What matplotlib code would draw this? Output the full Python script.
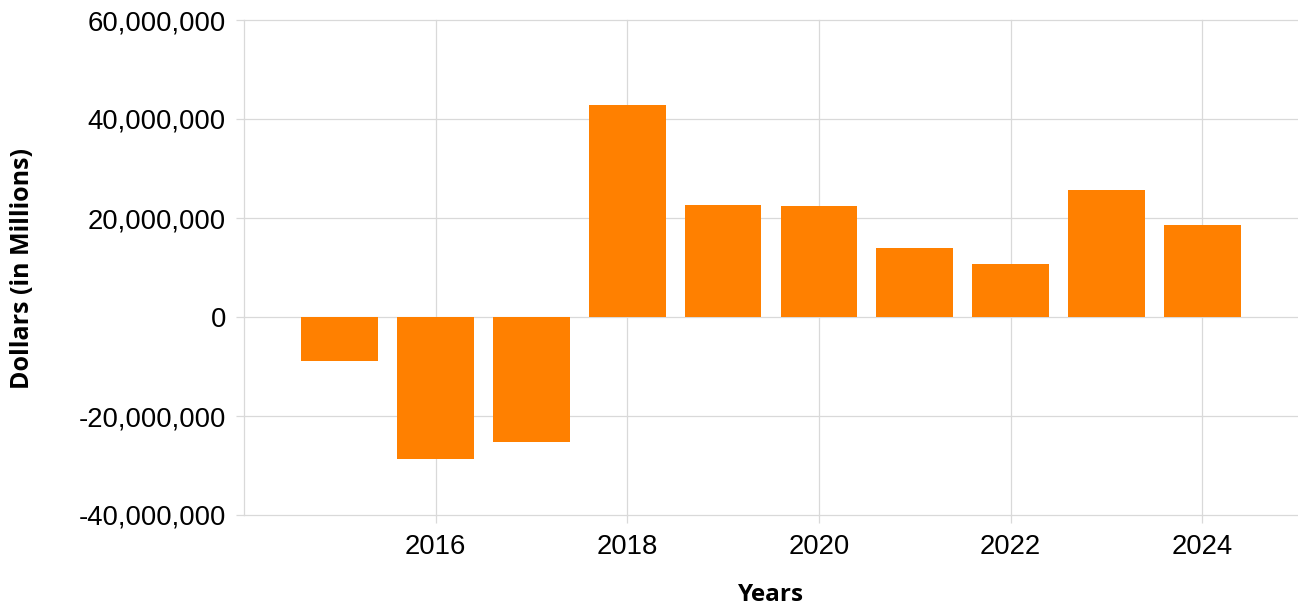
import numpy as np
import matplotlib
matplotlib.use('Agg')
from matplotlib import pyplot as plt
from matplotlib.ticker import FuncFormatter

years = [2015, 2016, 2017, 2018, 2019, 2020, 2021, 2022, 2023, 2024]
values = [-8.9e6, -28.7e6, -25.3e6, 42.8e6, 22.6e6, 22.4e6, 13.9e6, 10.7e6, 25.7e6, 18.6e6]
x_ticks = [2016, 2018, 2020, 2022, 2024]
y_ticks = [-40e6, -20e6, 0, 20e6, 40e6, 60e6]

fig = plt.figure(figsize=(12.98, 6.09), dpi=100)
ax = fig.add_axes([244/1298, 94/609, 1054/1298, 495/609])

ax.bar(years, values, width=0.8, color='#ff8000', zorder=2)

ax.set_xlim(2014, 2025)
ax.set_ylim(-40e6, 60e6)
ax.set_yticks(y_ticks)
ax.set_xticks(x_ticks)
ax.yaxis.set_major_formatter(FuncFormatter(lambda v, p: '{:,.0f}'.format(v)))

# grid: left edge line at 2014 plus the year ticks
for xv in [2014] + x_ticks:
    ax.axvline(xv, color='#d9d9d9', lw=0.9, zorder=0, clip_on=False)
for yv in y_ticks:
    ax.axhline(yv, color='#d9d9d9', lw=0.9, zorder=0, clip_on=False)
for s in ax.spines.values():
    s.set_visible(False)

ax.tick_params(axis='both', length=6, width=0.9, color='#d9d9d9',
               labelsize=19.8, labelcolor='black')
ax.tick_params(axis='y', pad=7)
ax.tick_params(axis='x', pad=8)
for lab in ax.get_xticklabels() + ax.get_yticklabels():
    lab.set_family('Liberation Sans')

ax.set_xlabel('Years', fontsize=17.5, fontweight='bold', family='Open Sans', va='baseline')
ax.xaxis.set_label_coords(0.5, -0.1737)
ax.set_ylabel('Dollars (in Millions)', fontsize=18, fontweight='bold', family='Open Sans',
              va='center', ha='center')
ax.yaxis.set_label_coords(-0.2106, 0.497)

fig.savefig('out.png', dpi=100)
